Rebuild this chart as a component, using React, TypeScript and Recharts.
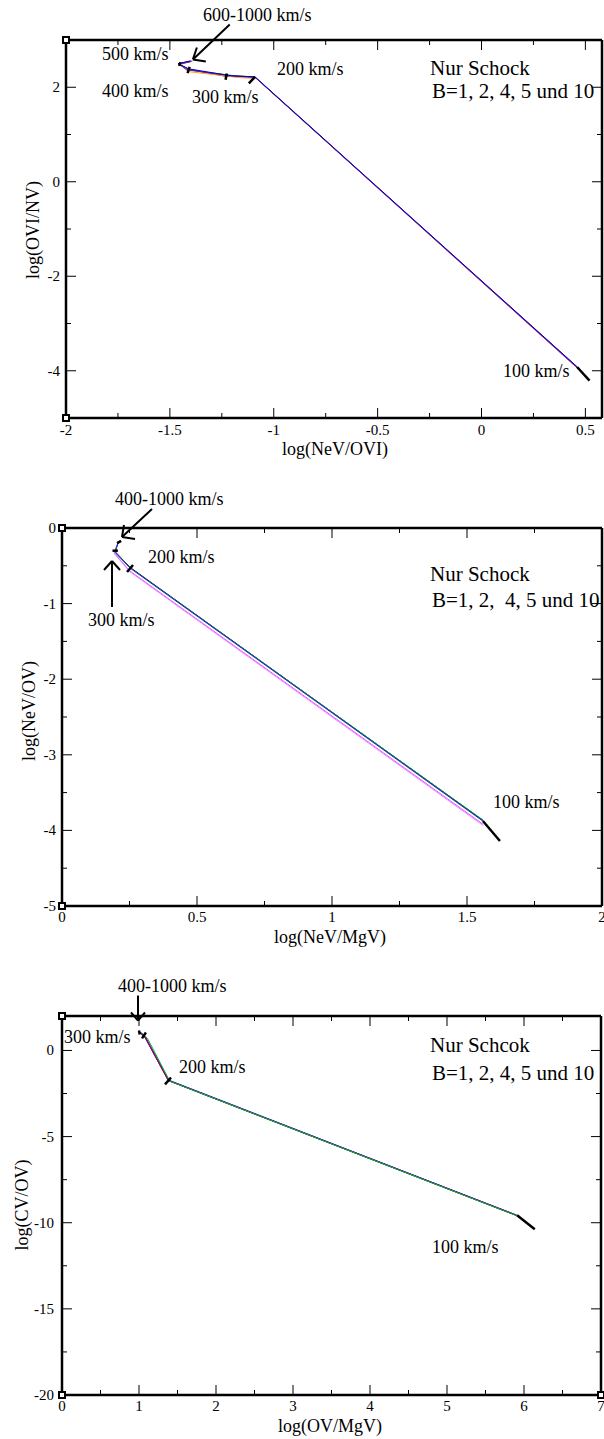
import React from 'react';
import { LineChart, Line, XAxis, YAxis, ReferenceLine } from 'recharts';

const FONT = '"Liberation Serif", "Times New Roman", serif';

type Pt = [number, number];

// ---- Panel 1: log(OVI/NV) vs log(NeV/OVI) ----
// points ordered 100 -> 200 -> 300 -> 400 -> 500 -> 600-1000 km/s
const p1B1: Pt[] = [[0.46, -3.92], [-1.09, 2.21], [-1.23, 2.23], [-1.41, 2.38], [-1.46, 2.5], [-1.4, 2.55]];
const p1B2: Pt[] = [[0.465, -3.96], [-1.085, 2.19], [-1.15, 2.2], [-1.41, 2.33], [-1.45, 2.48], [-1.39, 2.56]];
const p1B4: Pt[] = [[0.46, -3.925], [-1.09, 2.215], [-1.2, 2.25], [-1.4, 2.36], [-1.46, 2.49], [-1.4, 2.54]];
const p1B5: Pt[] = [[0.46, -3.935], [-1.09, 2.21], [-1.2, 2.24], [-1.42, 2.37], [-1.455, 2.49], [-1.395, 2.55]];
const p1B10: Pt[] = [[0.46, -3.915], [-1.09, 2.22], [-1.21, 2.245], [-1.41, 2.39], [-1.46, 2.5], [-1.4, 2.56]];
const p1Marks: Pt[][] = [
  [[0.46, -3.92], [0.52, -4.21]],
  [[-1.12, 2.08], [-1.09, 2.22]],
  [[-1.232, 2.16], [-1.226, 2.29]],
  [[-1.415, 2.3], [-1.405, 2.43]],
  [[-1.455, 2.45], [-1.45, 2.53]],
];
const p1Arrows: Pt[][] = [
  [[-1.212, 3.326], [-1.389, 2.589]],
  [[-1.389, 2.589], [-1.327, 2.547]],
  [[-1.389, 2.589], [-1.37, 2.842]],
];

// ---- Panel 2: log(NeV/OV) vs log(NeV/MgV) ----
const p2B1: Pt[] = [[1.56, -3.87], [0.252, -0.52], [0.196, -0.31], [0.207, -0.2]];
const p2B2: Pt[] = [[1.56, -3.92], [0.25, -0.565], [0.195, -0.335], [0.205, -0.22]];
const p2B4: Pt[] = [[1.56, -3.865], [0.252, -0.525], [0.196, -0.315], [0.207, -0.205]];
const p2B5: Pt[] = [[1.56, -3.88], [0.252, -0.53], [0.196, -0.32], [0.207, -0.21]];
const p2B10: Pt[] = [[1.56, -3.935], [0.25, -0.575], [0.194, -0.34], [0.204, -0.23]];
const p2Marks: Pt[][] = [
  [[1.559, -3.876], [1.622, -4.14]],
  [[0.241, -0.582], [0.263, -0.489]],
  [[0.187, -0.3], [0.207, -0.3]],
  [[0.204, -0.2], [0.219, -0.17]],
];
const p2Arrows: Pt[][] = [
  [[0.3333, 0.2513], [0.2222, -0.119]],
  [[0.2222, -0.119], [0.2704, -0.1455]],
  [[0.2222, -0.119], [0.2296, 0.0397]],
  [[0.1852, -1.045], [0.1852, -0.4365]],
  [[0.1852, -0.4365], [0.1556, -0.5556]],
  [[0.1852, -0.4365], [0.2148, -0.5556]],
];

// ---- Panel 3: log(CV/OV) vs log(OV/MgV) ----
const p3B1: Pt[] = [[5.91, -9.57], [1.38, -1.74], [1.08, 0.75], [1.0, 1.1]];
const p3B2: Pt[] = [[5.9, -9.55], [1.385, -1.72], [1.085, 0.76], [1.0, 1.1]];
const p3B4: Pt[] = [[5.91, -9.6], [1.4, -1.78], [1.11, 0.7], [1.03, 1.05]];
const p3B5: Pt[] = [[5.9, -9.58], [1.38, -1.75], [1.08, 0.74], [1.0, 1.08]];
const p3B10: Pt[] = [[5.91, -9.59], [1.39, -1.76], [1.09, 0.73], [1.01, 1.07]];
const p3Marks: Pt[][] = [
  [[5.91, -9.57], [6.14, -10.38]],
  [[1.338, -1.97], [1.416, -1.57]],
  [[1.039, 0.7], [1.09, 1.04]],
  [[1.0, 1.16], [1.01, 0.93]],
];
const p3Arrows: Pt[][] = [
  [[0.987, 3.188], [0.987, 1.739]],
  [[0.987, 1.739], [0.896, 2.203]],
  [[0.987, 1.739], [1.078, 2.203]],
];

type Label = { t: string; x: number; y: number; s?: number };

const p1Labels: Label[] = [
  { t: '600-1000 km/s', x: 203, y: 21 },
  { t: '500 km/s', x: 102, y: 60 },
  { t: '400 km/s', x: 102, y: 97 },
  { t: '300 km/s', x: 192, y: 103 },
  { t: '200 km/s', x: 277, y: 75 },
  { t: 'Nur Schock', x: 430, y: 75, s: 21 },
  { t: 'B=1, 2, 4, 5 und 10', x: 432, y: 98, s: 21 },
  { t: '100 km/s', x: 503, y: 377 },
];
const p2Labels: Label[] = [
  { t: '400-1000 km/s', x: 115, y: 505 },
  { t: '200 km/s', x: 148, y: 563 },
  { t: '300 km/s', x: 88, y: 626 },
  { t: 'Nur Schock', x: 430, y: 581, s: 21 },
  { t: 'B=1, 2,  4, 5 und 10', x: 432, y: 607, s: 21 },
  { t: '100 km/s', x: 493, y: 808 },
];
const p3Labels: Label[] = [
  { t: '400-1000 km/s', x: 118, y: 992 },
  { t: '300 km/s', x: 64, y: 1043 },
  { t: '200 km/s', x: 179, y: 1073 },
  { t: 'Nur Schcok', x: 430, y: 1052, s: 21 },
  { t: 'B=1, 2, 4, 5 und 10', x: 432, y: 1080, s: 21 },
  { t: '100 km/s', x: 432, y: 1253 },
];

// frame corners (xmgrace style little squares), page pixels
const corners: Pt[] = [
  [66, 40], [66, 418],
  [62, 528], [62, 906],
  [62, 1016], [62, 1395], [601, 1395],
];

const toPts = (a: Pt[]) => a.map(([x, y]) => ({ x, y }));

type Side = 'bottom' | 'top' | 'left' | 'right';

function makeTick(side: Side, majors: number[], labelOff: number) {
  return (props: any) => {
    const { x, y, payload } = props;
    const v = payload.value as number;
    const major = majors.some((m) => Math.abs(m - v) < 1e-9);
    const len = major ? 10 : 5;
    const showLabel = major && (side === 'bottom' || side === 'left');
    let line;
    if (side === 'bottom') line = <line x1={x} x2={x} y1={y} y2={y - len} />;
    else if (side === 'top') line = <line x1={x} x2={x} y1={y} y2={y + len} />;
    else if (side === 'left') line = <line x1={x} x2={x + len} y1={y} y2={y} />;
    else line = <line x1={x} x2={x - len} y1={y} y2={y} />;
    return (
      <g>
        <g stroke="#000" strokeWidth={1}>{line}</g>
        {showLabel && side === 'bottom' && (
          <text x={x} y={y + labelOff} textAnchor="middle" fontSize={15} fontFamily={FONT} fill="#000">
            {String(v)}
          </text>
        )}
        {showLabel && side === 'left' && (
          <text x={x - labelOff} y={y + 5} textAnchor="end" fontSize={15} fontFamily={FONT} fill="#000">
            {String(v)}
          </text>
        )}
      </g>
    );
  };
}

type PanelProps = {
  top: number;
  yAxisW: number;
  rightM: number;
  height: number;
  xDomain: [number, number];
  xMajor: number[];
  xMinor: number[];
  yDomain: [number, number];
  yMajor: number[];
  yMinor: number[];
  series: { pts: Pt[]; color: string; w?: number }[];
  marks: Pt[][];
  arrows: Pt[][];
  xLabelOff: number;
  yLabelOff: number;
};

function Panel(p: PanelProps) {
  const xt = [...p.xMajor, ...p.xMinor].sort((a, b) => a - b);
  const yt = [...p.yMajor, ...p.yMinor].sort((a, b) => a - b);
  const axisLine = { stroke: '#000', strokeWidth: 2.5 };
  // invisible series so the mirrored top/right axes get registered
  const frame = [
    { x: p.xDomain[0], y: p.yDomain[0] },
    { x: p.xDomain[1], y: p.yDomain[1] },
  ];
  return (
    <div style={{ position: 'absolute', left: 0, top: p.top }}>
      <LineChart width={604} height={p.height} margin={{ top: 39, right: p.rightM - 1, bottom: 0, left: 0 }}>
        <XAxis
          dataKey="x"
          type="number"
          domain={p.xDomain}
          ticks={xt}
          interval={0}
          allowDataOverflow
          height={40}
          tickSize={0}
          tickMargin={0}
          axisLine={axisLine}
          tickLine={false}
          tick={makeTick('bottom', p.xMajor, p.xLabelOff)}
        />
        <XAxis
          xAxisId="top"
          orientation="top"
          dataKey="x"
          type="number"
          domain={p.xDomain}
          ticks={xt}
          interval={0}
          allowDataOverflow
          height={1}
          tickSize={0}
          tickMargin={0}
          axisLine={axisLine}
          tickLine={false}
          tick={makeTick('top', p.xMajor, 0)}
        />
        <YAxis
          dataKey="y"
          type="number"
          domain={p.yDomain}
          ticks={yt}
          interval={0}
          allowDataOverflow
          width={p.yAxisW}
          tickSize={0}
          tickMargin={0}
          axisLine={axisLine}
          tickLine={false}
          tick={makeTick('left', p.yMajor, p.yLabelOff)}
        />
        <YAxis
          yAxisId="right"
          orientation="right"
          dataKey="y"
          type="number"
          domain={p.yDomain}
          ticks={yt}
          interval={0}
          allowDataOverflow
          width={1}
          tickSize={0}
          tickMargin={0}
          axisLine={axisLine}
          tickLine={false}
          tick={makeTick('right', p.yMajor, 0)}
        />
        <Line
          xAxisId="top"
          yAxisId="right"
          data={frame}
          dataKey="y"
          stroke="none"
          dot={false}
          activeDot={false}
          legendType="none"
          isAnimationActive={false}
        />
        {p.series.map((s, i) => (
          <Line
            key={'s' + i}
            data={toPts(s.pts)}
            dataKey="y"
            type="linear"
            stroke={s.color}
            strokeWidth={s.w ?? 1}
            dot={false}
            activeDot={false}
            isAnimationActive={false}
          />
        ))}
        {p.marks.map((m, i) => (
          <Line
            key={'m' + i}
            data={toPts(m)}
            dataKey="y"
            type="linear"
            stroke="#000"
            strokeWidth={2.5}
            dot={false}
            activeDot={false}
            isAnimationActive={false}
          />
        ))}
        {p.arrows.map((a, i) => (
          <ReferenceLine
            key={'a' + i}
            segment={[{ x: a[0][0], y: a[0][1] }, { x: a[1][0], y: a[1][1] }]}
            stroke="#000"
            strokeWidth={2}
            ifOverflow="visible"
          />
        ))}
      </LineChart>
    </div>
  );
}

function Texts({ labels }: { labels: Label[] }) {
  return (
    <>
      {labels.map((l, i) => (
        <text key={i} x={l.x} y={l.y} fontSize={l.s ?? 18} fontFamily={FONT} fill="#000" style={{ whiteSpace: 'pre' }}>
          {l.t}
        </text>
      ))}
    </>
  );
}

function Title({ t, x, y }: { t: string; x: number; y: number }) {
  return (
    <text x={x} y={y} textAnchor="middle" fontSize={18} fontFamily={FONT} fill="#000">
      {t}
    </text>
  );
}

function VTitle({ t, x, y }: { t: string; x: number; y: number }) {
  return (
    <text x={x} y={y} dy="0.35em" textAnchor="middle" fontSize={18} fontFamily={FONT} fill="#000" transform={`rotate(-90 ${x} ${y})`}>
      {t}
    </text>
  );
}

export default function App() {
  return (
    <div style={{ position: 'absolute', left: 0, top: 0, width: 604, height: 1439, overflow: 'hidden', background: '#fff' }}>
      <Panel
        top={0}
        yAxisW={66}
        rightM={2}
        height={458}
        xDomain={[-2, 0.58]}
        xMajor={[-2, -1.5, -1, -0.5, 0, 0.5]}
        xMinor={[-1.75, -1.25, -0.75, -0.25, 0.25]}
        yDomain={[-5, 3]}
        yMajor={[-4, -2, 0, 2]}
        yMinor={[-3, -1, 1]}
        series={[
          { pts: p1B1, color: '#333333' },
          { pts: p1B2, color: '#ffa500' },
          { pts: p1B4, color: '#00a000' },
          { pts: p1B5, color: '#9400d3' },
          { pts: p1B10, color: '#0000cc' },
        ]}
        marks={p1Marks}
        arrows={p1Arrows}
        xLabelOff={17}
        yLabelOff={6}
      />
      <Panel
        top={488}
        yAxisW={62}
        rightM={2}
        height={458}
        xDomain={[0, 2]}
        xMajor={[0, 0.5, 1, 1.5, 2]}
        xMinor={[0.25, 0.75, 1.25, 1.75]}
        yDomain={[-5, 0]}
        yMajor={[-5, -4, -3, -2, -1, 0]}
        yMinor={[-4.5, -3.5, -2.5, -1.5, -0.5]}
        series={[
          { pts: p2B1, color: '#000000' },
          { pts: p2B2, color: '#cc66ff' },
          { pts: p2B10, color: '#ff77ff' },
          { pts: p2B4, color: '#00a000' },
          { pts: p2B5, color: '#2020ff' },
        ]}
        marks={p2Marks}
        arrows={p2Arrows}
        xLabelOff={16}
        yLabelOff={6}
      />
      <Panel
        top={976}
        yAxisW={62}
        rightM={3}
        height={459}
        xDomain={[0, 7]}
        xMajor={[0, 1, 2, 3, 4, 5, 6, 7]}
        xMinor={[0.5, 1.5, 2.5, 3.5, 4.5, 5.5, 6.5]}
        yDomain={[-20, 2]}
        yMajor={[-20, -15, -10, -5, 0]}
        yMinor={[-17.5, -12.5, -7.5, -2.5]}
        series={[
          { pts: p3B5, color: '#000000' },
          { pts: p3B1, color: '#ff0000' },
          { pts: p3B2, color: '#0000ff' },
          { pts: p3B10, color: '#9400d3' },
          { pts: p3B4, color: '#00c000' },
        ]}
        marks={p3Marks}
        arrows={p3Arrows}
        xLabelOff={16}
        yLabelOff={8}
      />
      <svg width={604} height={1439} style={{ position: 'absolute', left: 0, top: 0, pointerEvents: 'none' }}>
        <Texts labels={p1Labels} />
        <Texts labels={p2Labels} />
        <Texts labels={p3Labels} />
        <Title t="log(NeV/OVI)" x={335} y={455} />
        <VTitle t="log(OVI/NV)" x={33} y={230} />
        <Title t="log(NeV/MgV)" x={330} y={943} />
        <VTitle t="log(NeV/OV)" x={29} y={711} />
        <Title t="log(OV/MgV)" x={330} y={1432} />
        <VTitle t="log(CV/OV)" x={22} y={1205} />
        {corners.map(([cx, cy], i) => (
          <rect key={i} x={cx - 3} y={cy - 3} width={6} height={6} fill="#fff" stroke="#000" strokeWidth={2} />
        ))}
      </svg>
    </div>
  );
}
